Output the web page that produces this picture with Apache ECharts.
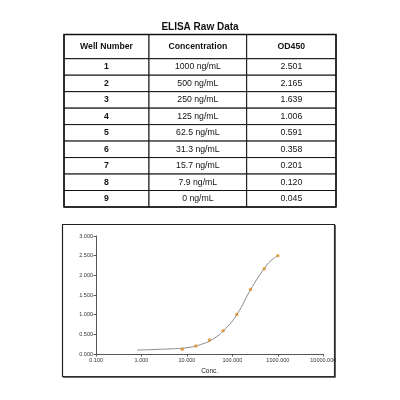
<!DOCTYPE html>
<html>
<head>
<meta charset="utf-8">
<script src="https://cdn.jsdelivr.net/npm/echarts@6/dist/echarts.min.js"></script>
<style>
  html, body { margin: 0; padding: 0; background: #fff; }
  #main { width: 400px; height: 400px; }
</style>
</head>
<body>
<div id="main"></div>
<script>
// table data
var headers = ['Well Number', 'Concentration', 'OD450'];
var wells = ['1', '2', '3', '4', '5', '6', '7', '8', '9'];
var concLabels = ['1000 ng/mL', '500 ng/mL', '250 ng/mL', '125 ng/mL', '62.5 ng/mL', '31.3 ng/mL', '15.7 ng/mL', '7.9 ng/mL', '0 ng/mL'];
var concValues = [1000, 500, 250, 125, 62.5, 31.3, 15.7, 7.9, 0];
var odValues = [2.501, 2.165, 1.639, 1.006, 0.591, 0.358, 0.201, 0.120, 0.045];

// fitted curve
var fitConc = [0.8, 2, 5, 10, 20, 40, 70, 125, 250, 500, 700, 1000];
var fitOD = [0.10, 0.115, 0.135, 0.16, 0.24, 0.40, 0.64, 1.00, 1.63, 2.17, 2.37, 2.50];

// layout of the table (in grid units)
var colEdges = [0, 85, 182.7, 272];
var headH = 1.47;
var tableRows = 9;

var cells = [];
for (var c = 0; c < 3; c++) {
    cells.push([c, 0, headers[c]]);
}
for (var i = 0; i < wells.length; i++) {
    cells.push([0, i + 1, wells[i]]);
    cells.push([1, i + 1, concLabels[i]]);
    cells.push([2, i + 1, odValues[i].toFixed(3)]);
}

var points = [];
for (var j = 0; j < concValues.length; j++) {
    if (concValues[j] > 0) points.push([concValues[j], odValues[j]]);
}
var fitLine = fitConc.map(function (v, k) { return [v, fitOD[k]]; });

var font = 'Liberation Sans, Arial, Helvetica, sans-serif';

function renderCell(params, api) {
    var col = api.value(0), row = api.value(1);
    var top = row === 0 ? 0 : headH + row - 1;
    var bottom = row === 0 ? headH : headH + row;
    var p0 = api.coord([colEdges[col], top]);
    var p1 = api.coord([colEdges[col + 1], bottom]);
    var bold = row === 0 || col === 0;
    return {
        type: 'group',
        children: [
            {
                type: 'rect',
                shape: { x: p0[0], y: p0[1], width: p1[0] - p0[0], height: p1[1] - p0[1] },
                style: { fill: '#fff', stroke: '#111', lineWidth: 1 }
            },
            {
                type: 'text',
                style: {
                    text: cells[params.dataIndex][2],
                    x: (p0[0] + p1[0]) / 2,
                    y: (p0[1] + p1[1]) / 2,
                    align: 'center',
                    verticalAlign: 'middle',
                    fontSize: 8.7,
                    fontWeight: bold ? 'bold' : 'normal',
                    fontFamily: font,
                    fill: '#111'
                }
            }
        ]
    };
}

var myChart = echarts.init(document.getElementById('main'), null, { renderer: 'canvas' });
myChart.setOption({
    animation: false,
    backgroundColor: '#fff',
    title: {
        text: 'ELISA Raw Data',
        left: 'center',
        top: 22,
        padding: 0,
        textStyle: { fontSize: 10, fontWeight: 'bold', fontFamily: font, color: '#111' }
    },
    graphic: [
        {
            type: 'rect',
            shape: { x: 62.5, y: 224.5, width: 272, height: 152 },
            style: { fill: 'none', stroke: '#222', lineWidth: 1.2 },
            z: -1
        },
        {
            type: 'polyline',
            shape: { points: [[335, 225], [335, 377], [63, 377]] },
            style: { fill: 'none', stroke: '#333', lineWidth: 1.5 },
            z: -1
        }
    ],
    grid: [
        { left: 64, top: 34.5, width: 272, height: 172.5, show: true, borderColor: '#111', borderWidth: 1.5, backgroundColor: 'transparent', z: 5 },
        { left: 96, top: 236, width: 227.3, height: 118, containLabel: false }
    ],
    xAxis: [
        { gridIndex: 0, type: 'value', min: 0, max: 272, show: false },
        {
            gridIndex: 1,
            type: 'log',
            logBase: 10,
            min: 0.1,
            max: 10000,
            name: 'Conc.',
            nameLocation: 'middle',
            nameGap: 14,
            nameTextStyle: { fontSize: 6.5, fontFamily: font, color: '#222' },
            axisLine: { lineStyle: { color: '#555', width: 1 } },
            axisTick: { show: true, length: 2.5, lineStyle: { color: '#555' } },
            minorTick: { show: false },
            axisLabel: {
                fontSize: 5.5, fontFamily: font, color: '#333', margin: 3,
                showMinLabel: true, showMaxLabel: true,
                formatter: function (v) { return Number(v).toFixed(3); }
            },
            splitLine: { show: false }
        }
    ],
    yAxis: [
        { gridIndex: 0, type: 'value', min: 0, max: headH + tableRows, inverse: true, show: false },
        {
            gridIndex: 1,
            type: 'value',
            min: 0,
            max: 3,
            interval: 0.5,
            axisLine: { show: true, lineStyle: { color: '#555', width: 1 } },
            axisTick: { show: true, length: 2.5, lineStyle: { color: '#555' } },
            axisLabel: {
                fontSize: 5.5, fontFamily: font, color: '#333', margin: 3,
                formatter: function (v) { return v.toFixed(3); }
            },
            splitLine: { show: false }
        }
    ],
    series: [
        {
            type: 'custom',
            xAxisIndex: 0,
            yAxisIndex: 0,
            renderItem: renderCell,
            data: cells,
            encode: { x: 0, y: 1 },
            z: 3
        },
        {
            type: 'line',
            xAxisIndex: 1,
            yAxisIndex: 1,
            data: fitLine,
            smooth: 0.5,
            showSymbol: false,
            lineStyle: { color: '#8a8a8a', width: 1 },
            z: 2
        },
        {
            type: 'scatter',
            xAxisIndex: 1,
            yAxisIndex: 1,
            data: points,
            symbol: 'circle',
            symbolSize: 3.5,
            itemStyle: { color: '#d98f24' },
            z: 4
        }
    ]
});
</script>
</body>
</html>
